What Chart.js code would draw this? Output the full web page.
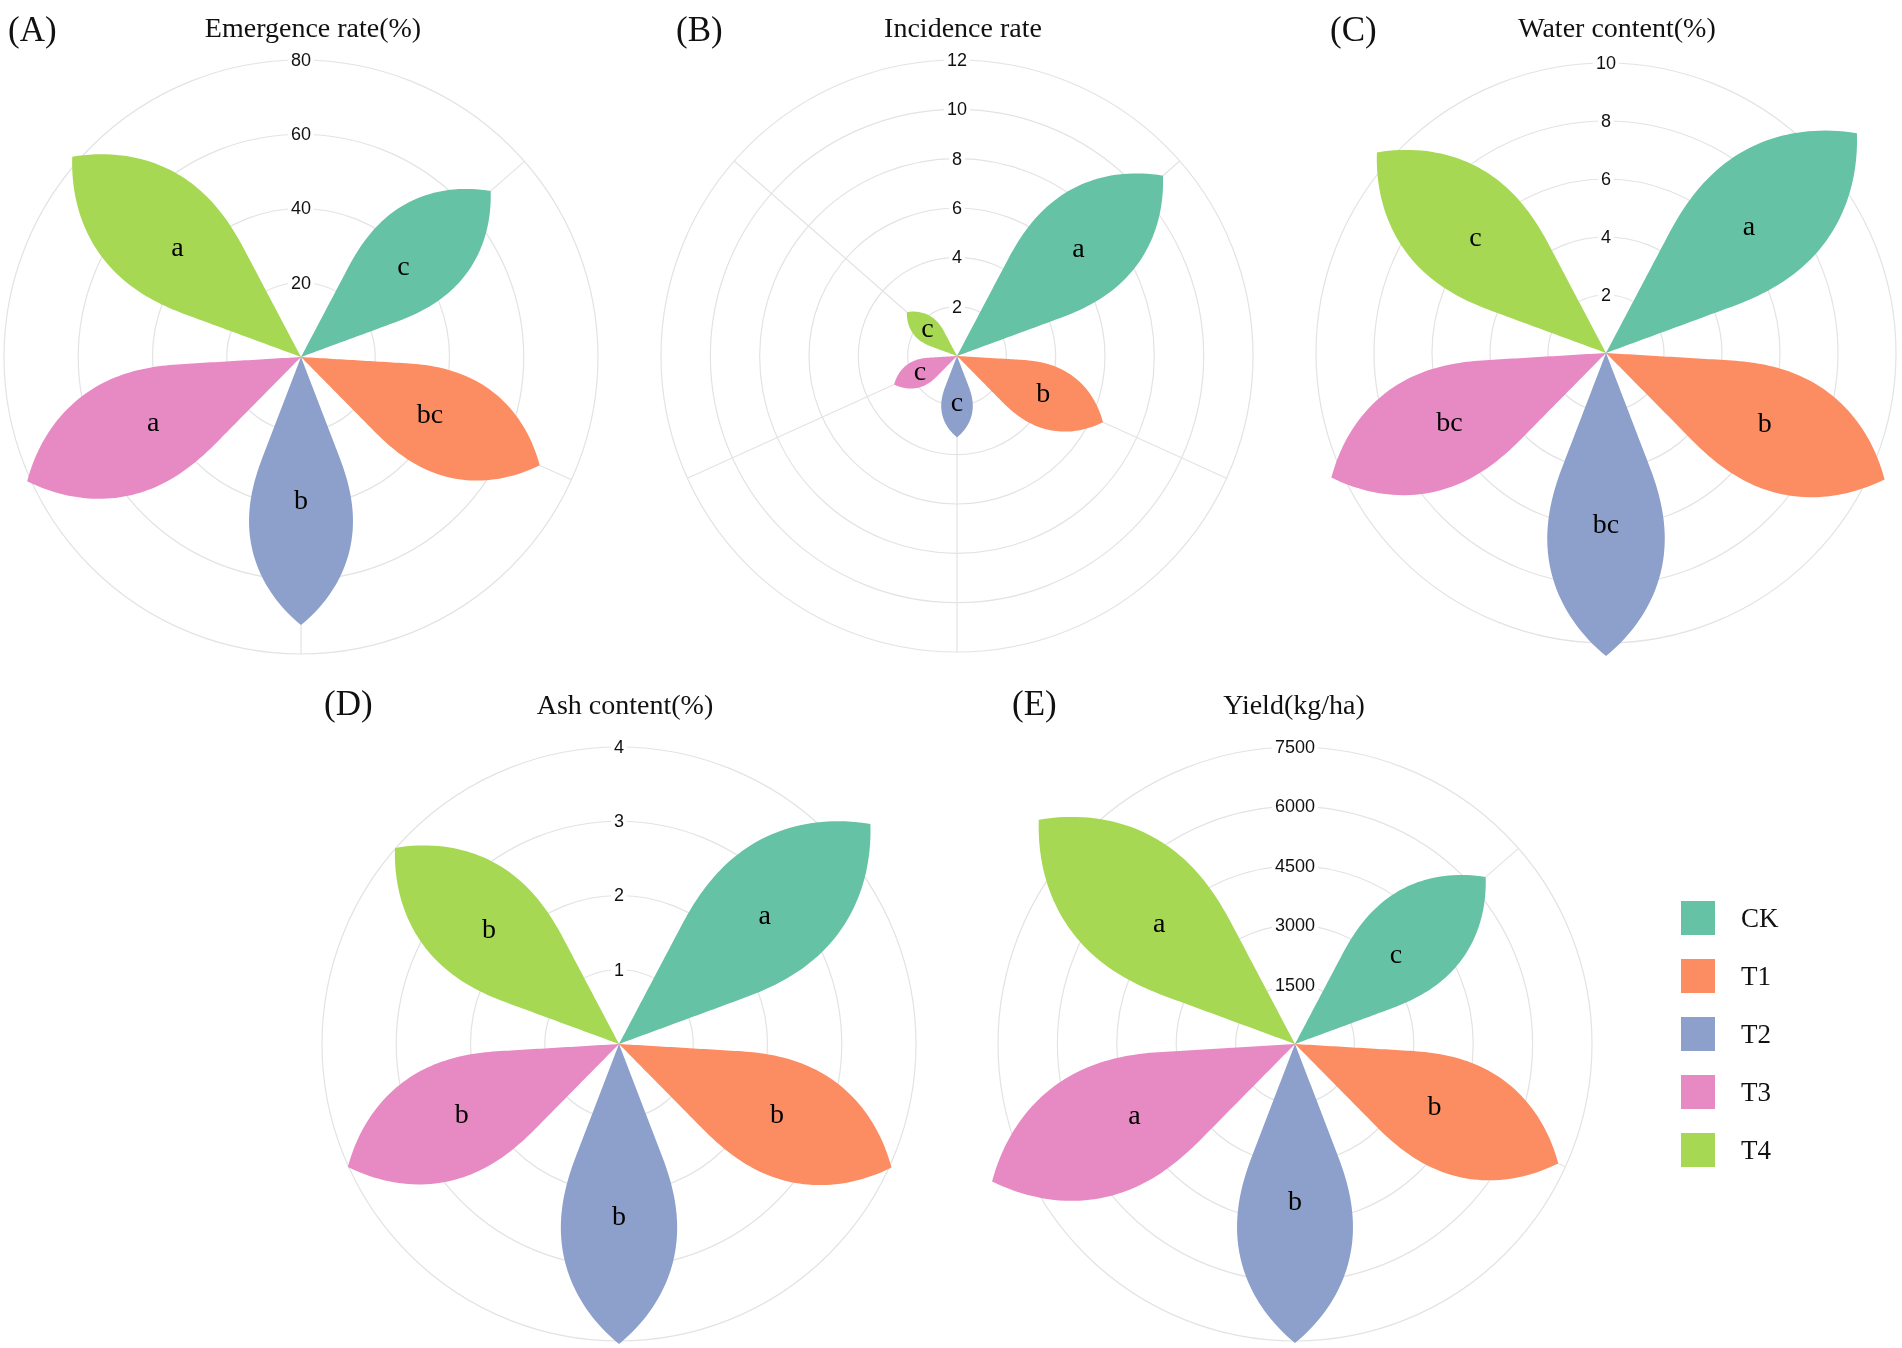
<!DOCTYPE html>
<html>
<head>
<meta charset="utf-8">
<script src="https://cdn.jsdelivr.net/npm/chart.js@4.4.1/dist/chart.umd.min.js"></script>
<style>
  html, body { margin: 0; padding: 0; background: #fff; }
  #page { position: relative; width: 1902px; height: 1348px; overflow: hidden; background: #fff; }
  canvas { position: absolute; }
  .ttl, .tag, .lab {
    position: absolute; white-space: nowrap; line-height: 1; color: #111;
    font-family: "Liberation Serif", "Times New Roman", serif;
  }
  .ttl { font-size: 28px; transform: translate(-50%, -50%); }
  .tag { font-size: 35px; transform: translateY(-50%); }
  .lab { font-size: 27px; transform: translateY(-50%); }
  .sw { position: absolute; width: 34px; height: 34px; }
</style>
</head>
<body>
<div id="page">
  <canvas id="chartA" width="780" height="780"></canvas>
  <canvas id="chartB" width="780" height="780"></canvas>
  <canvas id="chartC" width="780" height="780"></canvas>
  <canvas id="chartD" width="780" height="780"></canvas>
  <canvas id="chartE" width="780" height="780"></canvas>

  <div class="tag" style="left:8px;top:29px">(A)</div>
  <div class="tag" style="left:676px;top:29px">(B)</div>
  <div class="tag" style="left:1330px;top:29px">(C)</div>
  <div class="tag" style="left:324px;top:703px">(D)</div>
  <div class="tag" style="left:1012px;top:703px">(E)</div>

  <div class="ttl" style="left:313px;top:28px">Emergence rate(%)</div>
  <div class="ttl" style="left:963px;top:28px">Incidence rate</div>
  <div class="ttl" style="left:1617px;top:28px">Water content(%)</div>
  <div class="ttl" style="left:625px;top:705px">Ash content(%)</div>
  <div class="ttl" style="left:1294px;top:705px">Yield(kg/ha)</div>

  <div id="legend"></div>
</div>

<script>
const groups = ['CK', 'T1', 'T2', 'T3', 'T4'];
const groupColors = ['#66C2A5', '#FC8D62', '#8DA0CB', '#E78AC3', '#A6D854'];

const emergenceRate = [67.9, 70.6, 72.2, 81.0, 81.9];
const emergenceSig = ['c', 'bc', 'b', 'a', 'a'];

const incidenceRate = [11.1, 6.5, 3.3, 2.8, 2.7];
const incidenceSig = ['a', 'b', 'c', 'c', 'c'];

const waterContent = [11.5, 10.55, 10.45, 10.4, 10.5];
const waterSig = ['a', 'b', 'bc', 'bc', 'c'];

const ashContent = [4.5, 4.03, 4.04, 4.01, 4.01];
const ashSig = ['a', 'b', 'b', 'b', 'b'];

const yieldKgHa = [6400, 7300, 7550, 8400, 8600];
const yieldSig = ['c', 'b', 'b', 'a', 'a'];

const gridColor = '#e3e3e3';

// petal outline: wedge near the centre, narrowing to a tip at the value
function spread(t) {
  const s = Math.max(0, (t - 0.4) / 0.6);
  return 1 - s * s;
}

function petalPath(ctx, arc, widthFrac) {
  const c = (arc.startAngle + arc.endAngle) / 2;
  const half = (arc.endAngle - arc.startAngle) / 2 * widthFrac;
  const R = arc.outerRadius;
  const n = 80;
  ctx.beginPath();
  ctx.moveTo(arc.x, arc.y);
  for (let i = 1; i <= n; i++) {
    const t = i / n;
    const a = c - half * spread(t);
    ctx.lineTo(arc.x + Math.cos(a) * t * R, arc.y + Math.sin(a) * t * R);
  }
  for (let i = n - 1; i >= 1; i--) {
    const t = i / n;
    const a = c + half * spread(t);
    ctx.lineTo(arc.x + Math.cos(a) * t * R, arc.y + Math.sin(a) * t * R);
  }
  ctx.closePath();
}

const petalPlugin = {
  id: 'petals',
  beforeDatasetsDraw(chart) {
    const s = chart.scales.r;
    const ctx = chart.ctx;
    const arcs = chart.getDatasetMeta(0).data;
    ctx.save();
    // spokes at the middle of every group
    ctx.strokeStyle = gridColor;
    ctx.lineWidth = 1.2;
    arcs.forEach(arc => {
      const a = (arc.startAngle + arc.endAngle) / 2;
      ctx.beginPath();
      ctx.moveTo(s.xCenter, s.yCenter);
      ctx.lineTo(s.xCenter + Math.cos(a) * s.drawingArea, s.yCenter + Math.sin(a) * s.drawingArea);
      ctx.stroke();
    });
    // upright tick labels on the vertical
    ctx.font = '18px "Liberation Sans", Arial, sans-serif';
    ctx.textAlign = 'center';
    ctx.textBaseline = 'middle';
    s.ticks.forEach(t => {
      if (t.value === 0) return;
      const d = s.getDistanceFromCenterForValue(t.value);
      const w = ctx.measureText(t.label).width;
      ctx.fillStyle = '#fff';
      ctx.fillRect(s.xCenter - w / 2 - 3, s.yCenter - d - 9, w + 6, 18);
      ctx.fillStyle = '#111';
      ctx.fillText(t.label, s.xCenter, s.yCenter - d + 1);
    });
    ctx.restore();
  },
  beforeDatasetDraw(chart, args, opts) {
    const ctx = chart.ctx;
    const arcs = args.meta.data;
    ctx.save();
    arcs.forEach(arc => {
      petalPath(ctx, arc, opts.width);
      ctx.fillStyle = arc.options.backgroundColor;
      ctx.fill();
    });
    ctx.fillStyle = '#000';
    ctx.font = '28px "Liberation Serif", "Times New Roman", serif';
    ctx.textAlign = 'center';
    ctx.textBaseline = 'middle';
    arcs.forEach((arc, i) => {
      const a = (arc.startAngle + arc.endAngle) / 2;
      const d = arc.outerRadius * opts.labelAt;
      ctx.fillText(opts.letters[i], arc.x + Math.cos(a) * d, arc.y + Math.sin(a) * d);
    });
    ctx.restore();
    return false;
  }
};

function makePetalChart(id, values, letters, max, step, cx, cy, radius, labelAt) {
  const canvas = document.getElementById(id);
  const pad = 390 - radius;
  const chart = new Chart(canvas, {
    type: 'polarArea',
    data: {
      labels: groups,
      datasets: [{
        data: values,
        backgroundColor: groupColors,
        borderWidth: 0,
        angle: 65.6
      }]
    },
    options: {
      responsive: false,
      animation: false,
      devicePixelRatio: 1,
      layout: { padding: pad },
      plugins: {
        legend: { display: false },
        tooltip: { enabled: false },
        petals: { letters: letters, width: 0.64, labelAt: labelAt }
      },
      scales: {
        r: {
          min: 0,
          max: max,
          startAngle: 16,
          ticks: {
            display: false,
            stepSize: step,
            callback: v => String(v)
          },
          grid: { color: gridColor, lineWidth: 1.2, circular: true },
          angleLines: { display: false },
          pointLabels: { display: false }
        }
      }
    },
    plugins: [petalPlugin]
  });
  const s = chart.scales.r;
  canvas.style.left = (cx - s.xCenter) + 'px';
  canvas.style.top = (cy - s.yCenter) + 'px';
  return chart;
}

makePetalChart('chartA', emergenceRate, emergenceSig, 80, 20, 301, 357, 297, 0.54);
makePetalChart('chartB', incidenceRate, incidenceSig, 12, 2, 957, 356, 296, 0.59);
makePetalChart('chartC', waterContent, waterSig, 10, 2, 1606, 353, 290, 0.57);
makePetalChart('chartD', ashContent, ashSig, 4, 1, 619, 1044, 297, 0.58);
makePetalChart('chartE', yieldKgHa, yieldSig, 7500, 1500, 1295, 1044, 297, 0.53);

// legend
const legend = document.getElementById('legend');
groups.forEach((g, i) => {
  const y = 918 + i * 58;
  const sw = document.createElement('div');
  sw.className = 'sw';
  sw.style.left = '1681px';
  sw.style.top = (y - 17) + 'px';
  sw.style.background = groupColors[i];
  legend.appendChild(sw);
  const lab = document.createElement('div');
  lab.className = 'lab';
  lab.style.left = '1741px';
  lab.style.top = y + 'px';
  lab.textContent = g;
  legend.appendChild(lab);
});
</script>
</body>
</html>
